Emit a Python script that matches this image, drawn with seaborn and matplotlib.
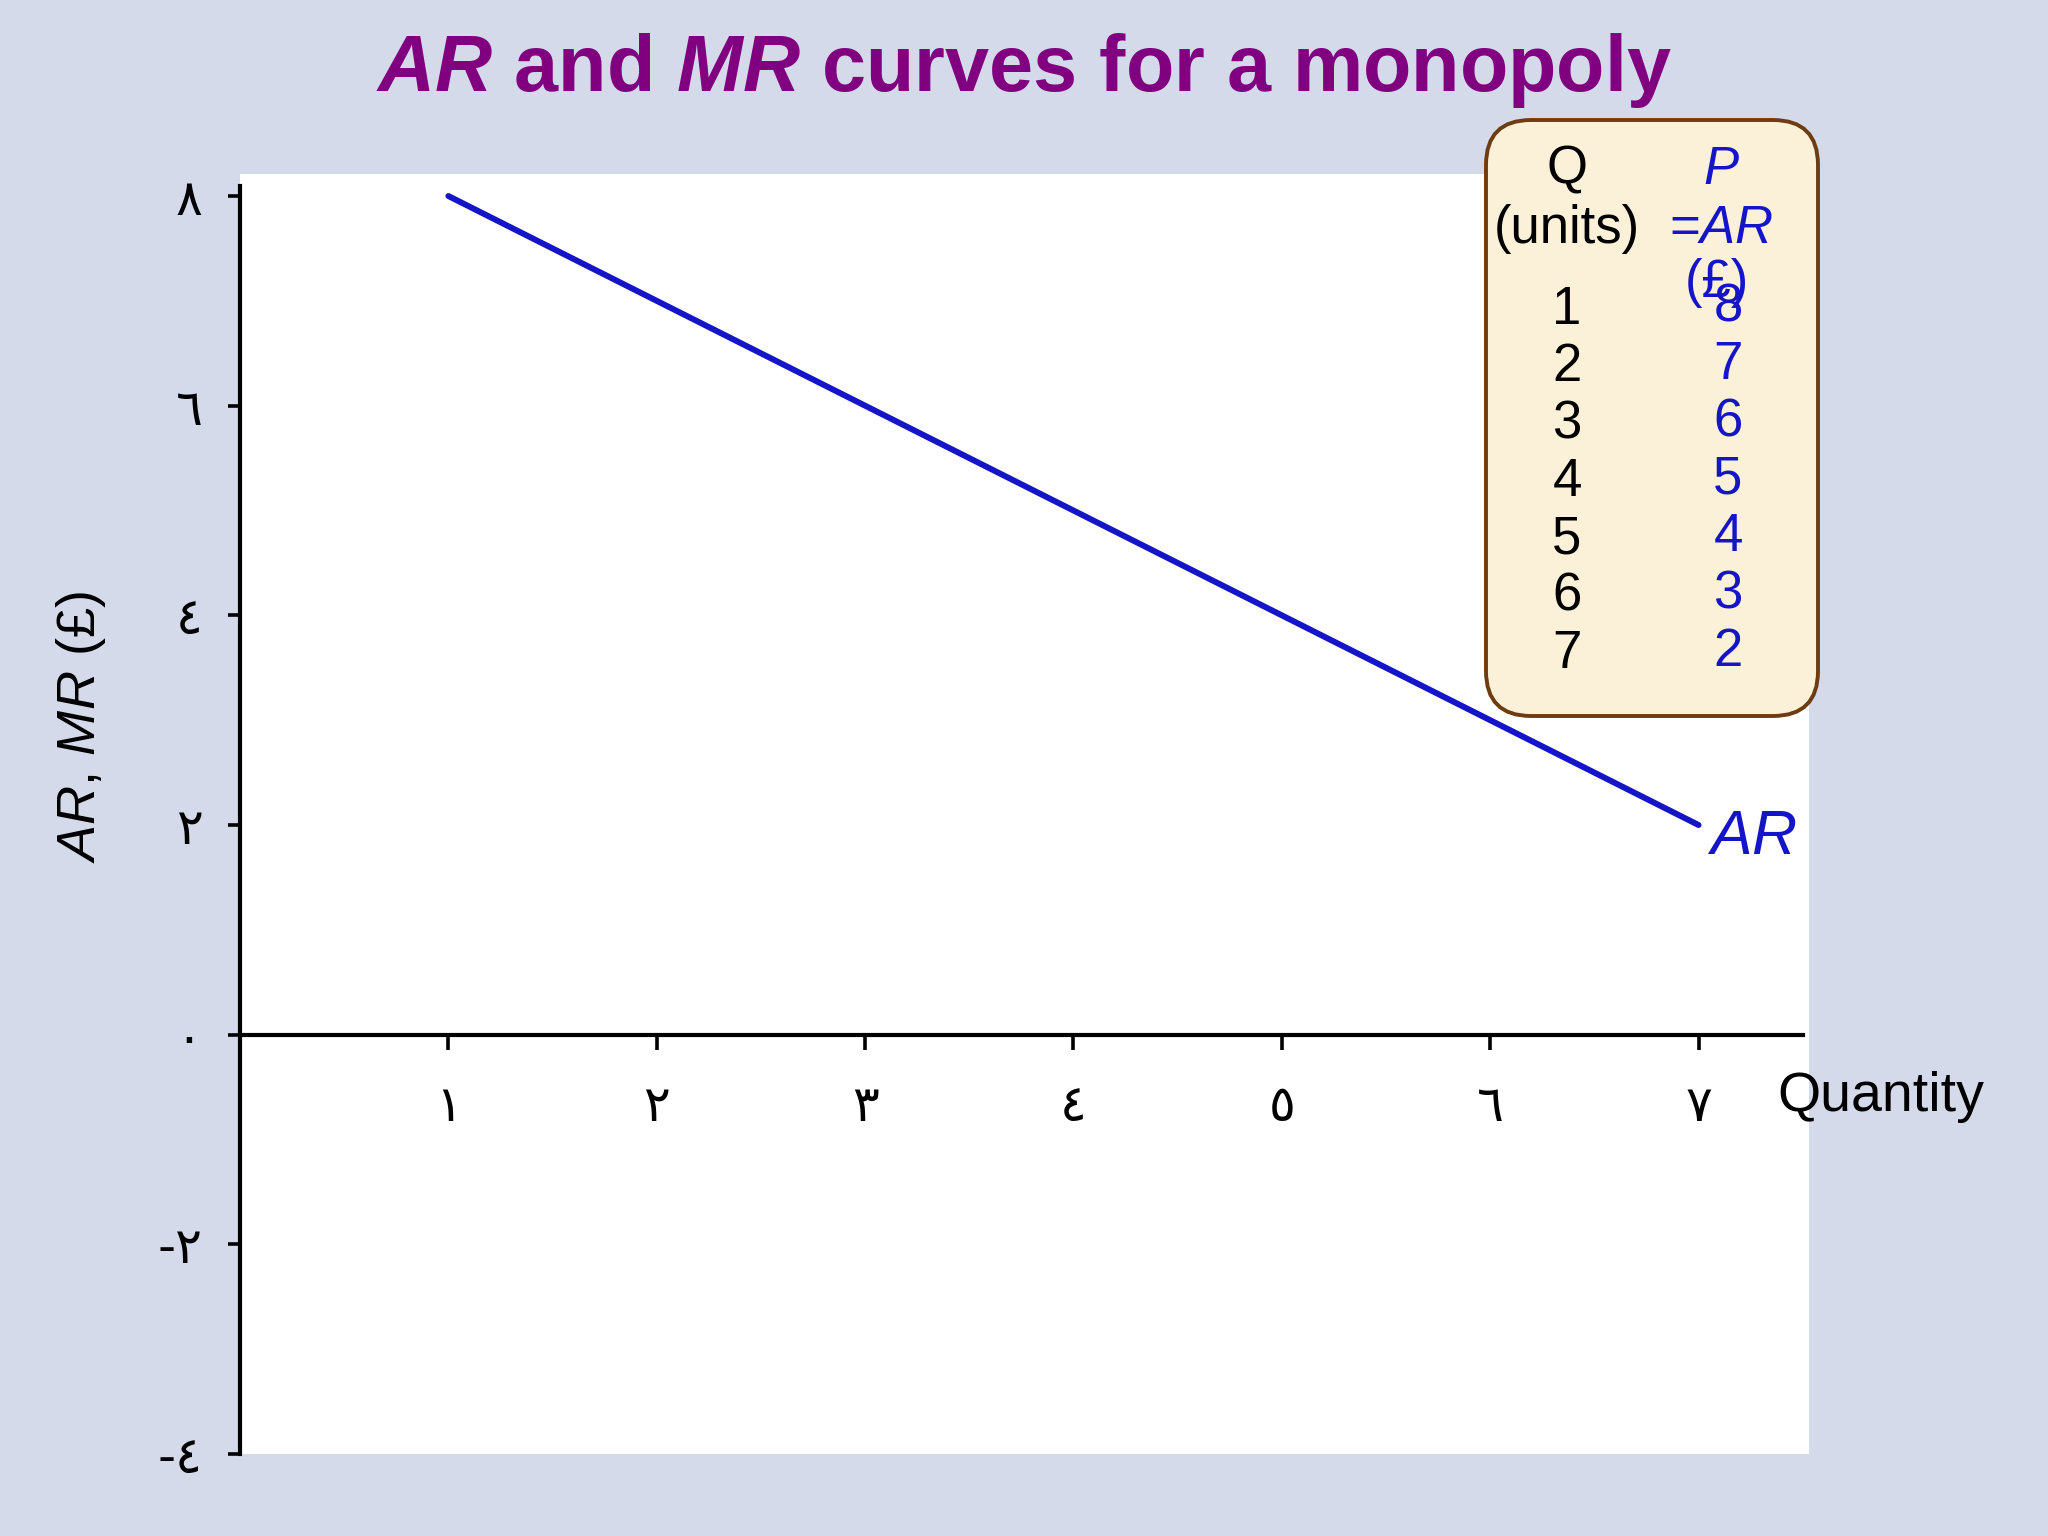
import matplotlib
matplotlib.use("Agg")
import matplotlib.pyplot as plt
import seaborn as sns
from matplotlib.patches import FancyBboxPatch

# data
q_units = [1, 2, 3, 4, 5, 6, 7]
ar_price = [8, 7, 6, 5, 4, 3, 2]
x_ticks = [1, 2, 3, 4, 5, 6, 7]
x_tick_labels = ["١", "٢", "٣", "٤", "٥", "٦", "٧"]
y_ticks = [-4, -2, 0, 2, 4, 6, 8]
y_tick_labels = ["-٤", "-٢", "٠", "٢", "٤", "٦", "٨"]

sns.set_theme(style="white")
plt.rcParams["font.family"] = ["Liberation Sans", "DejaVu Sans"]
plt.rcParams["mathtext.fontset"] = "custom"
plt.rcParams["mathtext.rm"] = "Liberation Sans"
plt.rcParams["mathtext.it"] = "Liberation Sans:italic"
plt.rcParams["mathtext.bf"] = "Liberation Sans:bold"
plt.rcParams["mathtext.bfit"] = "Liberation Sans:italic:bold"

BG = "#d5daea"
BLUE = "#1515c8"
PURPLE = "#800080"
W, H = 2048, 1536

fig = plt.figure(figsize=(20.48, 15.36), dpi=100, facecolor=BG)
ax = fig.add_axes([240 / W, 1 - 1454 / H, (1809 - 240) / W, (1454 - 174) / H])
ax.set_facecolor("white")

sns.lineplot(x=q_units, y=ar_price, ax=ax, color=BLUE, linewidth=4.3)

ax.set_xlim(0, 7.53)
ax.set_ylim(-4, 8.21)

for s in ["top", "right"]:
    ax.spines[s].set_visible(False)
ax.spines["bottom"].set_position(("data", 0))
ax.spines["bottom"].set_bounds(0, 7.5)
ax.spines["left"].set_bounds(-4, 8.1)
for s in ["bottom", "left"]:
    ax.spines[s].set_color("black")
    ax.spines[s].set_linewidth(3)

ax.set_xticks(x_ticks)
ax.set_xticklabels(x_tick_labels, family=["DejaVu Sans"], fontsize=36,
                   color="black")
ax.set_yticks(y_ticks)
ax.set_yticklabels(y_tick_labels, family=["DejaVu Sans"], fontsize=36,
                   color="black")
ax.tick_params(axis="x", direction="out", length=11, width=2.6, color="black",
               pad=24, bottom=True)
ax.tick_params(axis="y", direction="out", length=9, width=2.6, color="black",
               pad=18, left=True)

ax.annotate(r"$\mathit{AR}$", xy=(7, 2), xytext=(8, -12), textcoords="offset pixels",
            color=BLUE, fontsize=45, ha="left", va="center")

fig.text(1777 / W, 1 - 1097 / H, "Quantity", fontsize=40, color="black",
         ha="left", va="center")
fig.text(81 / W, 1 - 727 / H, r"$\mathit{AR}$, $\mathit{MR}$ (£)", rotation=90,
         fontsize=39, color="black", ha="center", va="center")

fig.text(0.5, 1 - 70 / H, r"$\mathbfit{AR}$ and $\mathbfit{MR}$ curves for a monopoly",
         fontsize=57, fontweight="bold", color=PURPLE, ha="center", va="center")

# table box
r = 0.45
x0, x1 = 14.86, 18.18
y0, y1 = (H - 716) / 100, (H - 120) / 100
box = FancyBboxPatch((x0 + r, y0 + r), x1 - x0 - 2 * r, y1 - y0 - 2 * r,
                     boxstyle=f"round,pad={r}", transform=fig.dpi_scale_trans,
                     facecolor="#fbf0d8", edgecolor="#6e3c12", linewidth=2.8,
                     zorder=5)
fig.patches.append(box)

def ftxt(px, py, s, **kw):
    fig.text(px / W, 1 - py / H, s, ha="center", va="center", zorder=6,
             fontsize=38, **kw)

ftxt(1567, 170, "Q", color="black")
ftxt(1567, 229, "(units)", color="black")
ftxt(1721, 170, r"$\mathit{P}$", color=BLUE)
ftxt(1721, 229, r"=$\mathit{AR}$", color=BLUE)
ftxt(1717, 283, "(£)", color=BLUE)
for i, (q, p) in enumerate(zip(q_units, ar_price)):
    ftxt(1567, 310 + i * 57.3, str(q), color="black")
    ftxt(1728, 308 + i * 57.3, str(p), color=BLUE)

fig.savefig("out.png", dpi=100, facecolor=BG)
